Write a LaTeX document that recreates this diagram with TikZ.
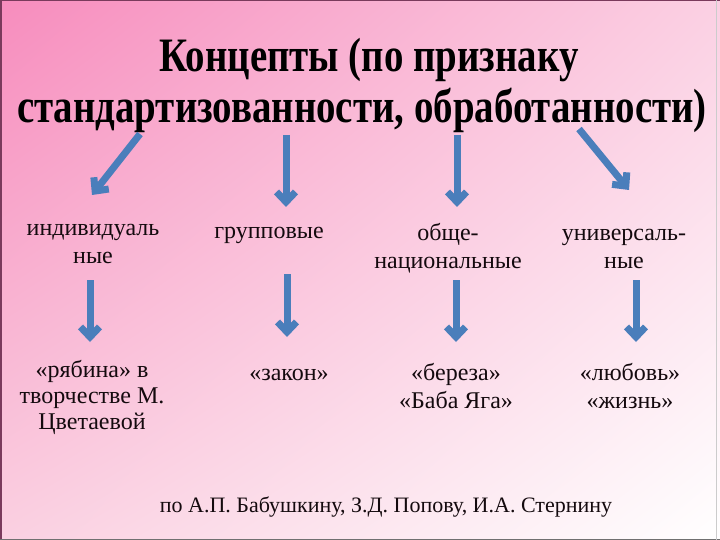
\documentclass[tikz,border=0pt]{standalone}
\usepackage{fontspec}
\setmainfont{LiberationSerif}[Extension=.ttf, UprightFont=*-Regular, BoldFont=*-Bold]
\newfontfamily\titlefont{LiberationSerif}[Extension=.ttf, UprightFont=*-Bold, FakeStretch=0.81]
\usetikzlibrary{arrows.meta,shadings}
\definecolor{bgtl}{HTML}{F78CBD}
\definecolor{bgtr}{HTML}{FBD0E3}
\definecolor{bgbl}{HTML}{FAD0E1}
\definecolor{bgbr}{HTML}{FFFFFF}
\definecolor{arrowblue}{HTML}{4A7EBB}
\definecolor{framel}{HTML}{7A3A5C}
\definecolor{frameb}{HTML}{707070}
\definecolor{txt}{HTML}{140A0E}
\tikzset{
  lbl/.style={anchor=base, align=center, inner sep=0pt, text=txt,
    font=\fontsize{24}{28}\selectfont},
  lblb/.style={lbl, font=\fontsize{24}{26}\selectfont},
  ttl/.style={anchor=base, inner sep=0pt, text=black,
    font=\titlefont\fontsize{48}{51}\selectfont},
  arr/.style={draw=arrowblue, line width=7pt,
    -{Straight Barb[length=10pt,width=19pt]}},
}
\begin{document}
\begin{tikzpicture}[x=1pt,y=-1pt]
\useasboundingbox (0,0) rectangle (720,540);
\shade[upper left=bgtl, upper right=bgtr, lower left=bgbl, lower right=bgbr]
  (0,0) rectangle (720,540);
\fill[framel] (0,0) rectangle (2,540);
\fill[framel] (0,0) rectangle (720,1);
\fill[frameb] (0,539) rectangle (720,540);
\fill[gray!40] (716,0) rectangle (717,540);
% title
\node[ttl] (t1) at (369,72) {Концепты (по признаку};
\node[ttl] (t2) at (362,123) {стандартизованности, обработанности)};
% first row (base anchor = baseline of last line)
\node[lbl] (ind) at (93,263) {индивидуаль\\ные};
\node[lbl] (grp) at (269,239) {групповые};
\node[lbl] (nat) at (448,268) {обще-\\национальные};
\node[lbl] (uni) at (624,268) {универсаль-\\ные};
% second row
\node[lblb] (ryab) at (92,429) {«рябина» в\\творчестве М.\\Цветаевой};
\node[lbl] (zak) at (289,380) {«закон»};
\node[lbl] (ber) at (456,408) {«береза»\\«Баба Яга»};
\node[lbl] (lub) at (630,408) {«любовь»\\«жизнь»};
% footer
\node[lbl, font=\fontsize{22}{26}\selectfont] (src) at (386,512)
  {по А.П. Бабушкину, З.Д. Попову, И.А. Стернину};
% arrow coordinates
\coordinate (a1s) at (140,134); \coordinate (a1e) at (92,195);
\coordinate (a2s) at (286,135); \coordinate (a2e) at (286,207);
\coordinate (a3s) at (457,135); \coordinate (a3e) at (457,207);
\coordinate (a4s) at (579,129); \coordinate (a4e) at (629,190);
\coordinate (b1s) at (90,280); \coordinate (b1e) at (90,342);
\coordinate (b2s) at (287,274); \coordinate (b2e) at (287,337);
\coordinate (b3s) at (456,280); \coordinate (b3e) at (456,342);
\coordinate (b4s) at (636,280); \coordinate (b4e) at (636,342);
\foreach \s/\e in {a1s/a1e,a2s/a2e,a3s/a3e,a4s/a4e,b1s/b1e,b2s/b2e,b3s/b3e,b4s/b4e}
  \draw[arr] (\s) -- (\e);
\end{tikzpicture}
\end{document}
